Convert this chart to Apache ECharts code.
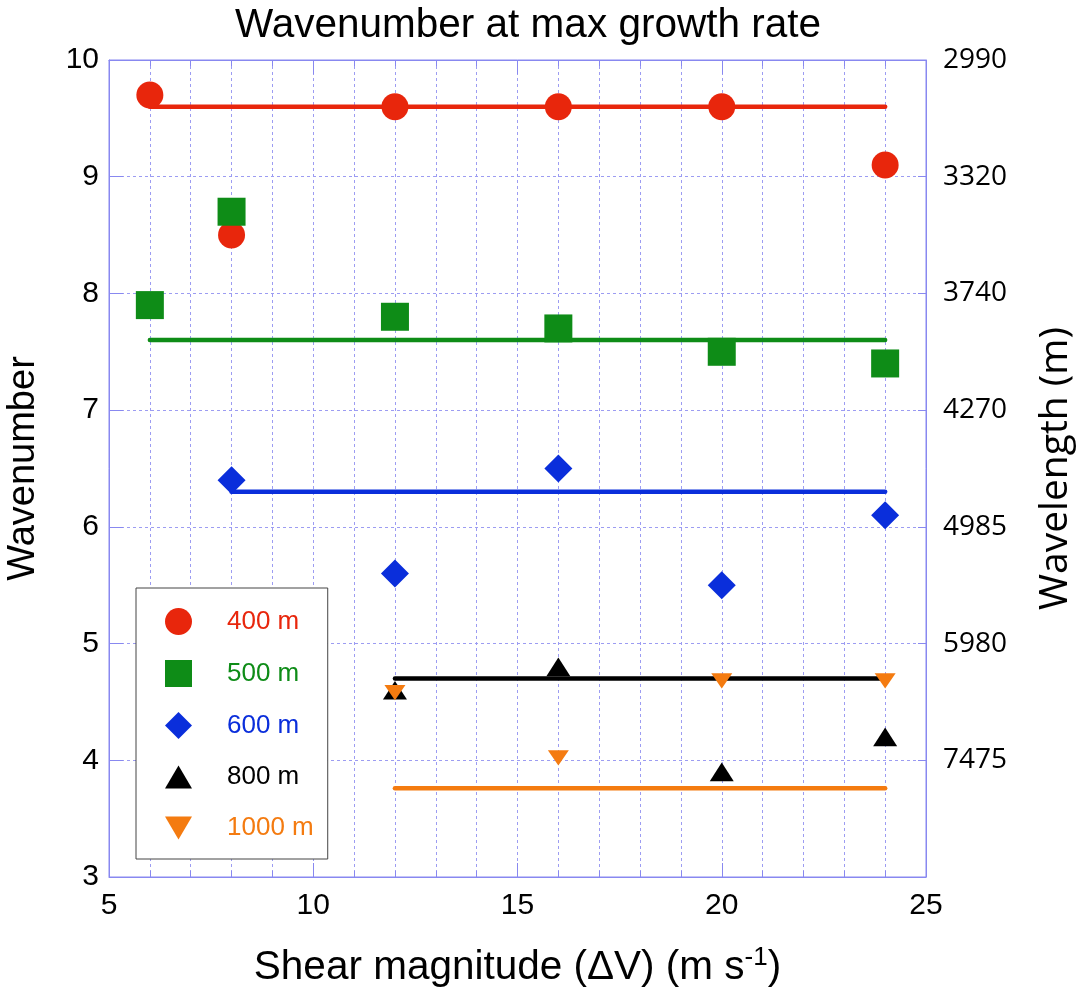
<!DOCTYPE html>
<html>
<head>
<meta charset="utf-8">
<script src="https://cdn.jsdelivr.net/npm/echarts@6/dist/echarts.min.js"></script>
<style>
html,body{margin:0;padding:0;background:#fff;}
#chart{width:1088px;height:997px;}
</style>
</head>
<body>
<div id="chart"></div>
<script>
// ---- data ----
const titleText = 'Wavenumber at max growth rate';
const seriesNames = ['400 m', '500 m', '600 m', '800 m', '1000 m'];
const x400 = [6, 8, 12, 16, 20, 24];
const k400 = [9.7, 8.5, 9.6, 9.6, 9.6, 9.1];
const x500 = [6, 8, 12, 16, 20, 24];
const k500 = [7.9, 8.7, 7.8, 7.7, 7.5, 7.4];
const x600 = [8, 12, 16, 20, 24];
const k600 = [6.4, 5.6, 6.5, 5.5, 6.1];
const x800 = [12, 16, 20, 24];
const k800 = [4.6, 4.8, 3.9, 4.2];
const x1000 = [12, 16, 20, 24];
const k1000 = [4.58, 4.02, 4.68, 4.68];
const fitLevel = [9.6, 7.6, 6.3, 4.7, 3.76];
const fitStart = [6, 6, 8, 12, 12];
const fitEnd = [24, 24, 24, 24, 24];
const yTicks = [3, 4, 5, 6, 7, 8, 9, 10];
const wavelengthLabels = ['', '7475', '5980', '4985', '4270', '3740', '3320', '2990'];

// ---- style ----
const colors = ['#e8260c', '#0e8c17', '#0a2edb', '#000000', '#f47b10'];
const symbols = ['circle', 'rect', 'diamond', 'path://M10,0L20,17L0,17Z', 'path://M0,0L20,0L10,17Z'];
const sizes = [27, 28, 28, [24, 22], [21, 18]];
const xsAll = [x400, x500, x600, x800, x1000];
const ksAll = [k400, k500, k600, k800, k1000];
const frameColor = '#8888f0';
const gridColor = '#9c9cf2';
const sans = '"Liberation Sans", Helvetica, Arial, sans-serif';
const sans2 = '"Open Sans", sans-serif';
const richKeys = ['r', 'g', 'b', 'k', 'o'];

const chart = echarts.init(document.getElementById('chart'), null, {renderer: 'canvas'});

const series = [];
for (let i = 0; i < seriesNames.length; i++) {
  series.push({
    type: 'line',
    name: seriesNames[i] + ' fit',
    data: [[fitStart[i], fitLevel[i]], [fitEnd[i], fitLevel[i]]],
    showSymbol: false,
    symbol: 'none',
    lineStyle: {color: colors[i], width: 4.5, cap: 'round'},
    silent: true,
    z: 2
  });
}
for (let i = 0; i < seriesNames.length; i++) {
  series.push({
    type: 'scatter',
    name: seriesNames[i],
    data: xsAll[i].map((x, j) => [x, ksAll[i][j]]),
    symbol: symbols[i],
    symbolSize: sizes[i],
    symbolKeepAspect: true,
    itemStyle: {color: colors[i], opacity: 1},
    z: 3 + i
  });
}

const rich = {};
richKeys.forEach((k, i) => {
  rich[k] = {color: colors[i], fontSize: 26, fontFamily: sans, padding: [0, 0, 0, 30]};
});

const option = {
  animation: false,
  backgroundColor: '#fff',
  title: {
    text: titleText,
    left: 230,
    top: 0,
    textStyle: {fontFamily: sans, fontSize: 40.5, fontWeight: 'normal', color: '#000'}
  },
  grid: {
    left: 109, right: 162, top: 60, bottom: 120,
    containLabel: false,
    outerBoundsMode: 'none',
    show: true, borderColor: frameColor, borderWidth: 1, backgroundColor: 'transparent'
  },
  legend: {
    data: seriesNames,
    orient: 'vertical',
    left: 136,
    top: 588,
    itemWidth: 27,
    itemHeight: 27,
    itemGap: 25,
    padding: [20, 14, 18, 29],
    backgroundColor: '#fff',
    borderColor: '#444',
    borderWidth: 1,
    selectedMode: false,
    formatter: name => '{' + richKeys[seriesNames.indexOf(name)] + '|' + name + '}',
    textStyle: {fontSize: 26, fontFamily: sans, rich: rich}
  },
  xAxis: [{
    type: 'value',
    min: 5, max: 25, interval: 5,
    position: 'bottom',
    name: 'Shear magnitude (ΔV) (m s{sup|-1})',
    nameLocation: 'middle',
    nameGap: 68,
    nameTextStyle: {
      fontFamily: sans, fontSize: 40.5, color: '#000',
      rich: {sup: {fontSize: 26, fontFamily: sans, verticalAlign: 'bottom', padding: [0, 0, 20, 0], color: '#000'}}
    },
    axisLine: {show: true, lineStyle: {color: frameColor, width: 1}},
    axisTick: {show: true, inside: true, length: 14, lineStyle: {color: frameColor}},
    minorTick: {show: true, splitNumber: 5, length: 6, lineStyle: {color: frameColor}},
    splitLine: {show: true, lineStyle: {color: gridColor, type: [3, 3], width: 1}},
    minorSplitLine: {show: true, lineStyle: {color: gridColor, type: [3, 3], width: 1}},
    axisLabel: {fontFamily: sans, fontSize: 30, color: '#000', margin: 14}
  }, {
    type: 'value',
    min: 5, max: 25, interval: 5,
    position: 'top',
    axisLine: {show: true, lineStyle: {color: frameColor, width: 1}},
    axisTick: {show: true, inside: true, length: 14, lineStyle: {color: frameColor}},
    minorTick: {show: true, splitNumber: 5, length: 6, lineStyle: {color: frameColor}},
    splitLine: {show: false},
    axisLabel: {show: false}
  }],
  yAxis: [{
    type: 'value',
    min: 3, max: 10, interval: 1,
    position: 'left',
    name: 'Wavenumber',
    nameLocation: 'middle',
    nameGap: 66,
    nameTextStyle: {fontFamily: sans, fontSize: 38, color: '#000'},
    axisLine: {show: true, lineStyle: {color: frameColor, width: 1}},
    axisTick: {show: true, inside: true, length: 14, lineStyle: {color: frameColor}},
    splitLine: {show: true, lineStyle: {color: gridColor, type: [3, 3], width: 1}},
    axisLabel: {fontFamily: sans, fontSize: 30, color: '#000', margin: 10}
  }, {
    type: 'value',
    min: 3, max: 10, interval: 1,
    position: 'right',
    name: 'Wavelength (m)',
    nameLocation: 'middle',
    nameGap: 110,
    nameTextStyle: {fontFamily: sans2, fontSize: 39, color: '#000'},
    axisLine: {show: true, lineStyle: {color: frameColor, width: 1}},
    axisTick: {show: true, inside: true, length: 8, lineStyle: {color: frameColor}},
    splitLine: {show: false},
    axisLabel: {
      fontFamily: sans2, fontSize: 28, color: '#000', margin: 17,
      formatter: v => wavelengthLabels[yTicks.indexOf(Math.round(v))] || ''
    }
  }],
  series: series
};
chart.setOption(option);
</script>
</body>
</html>
